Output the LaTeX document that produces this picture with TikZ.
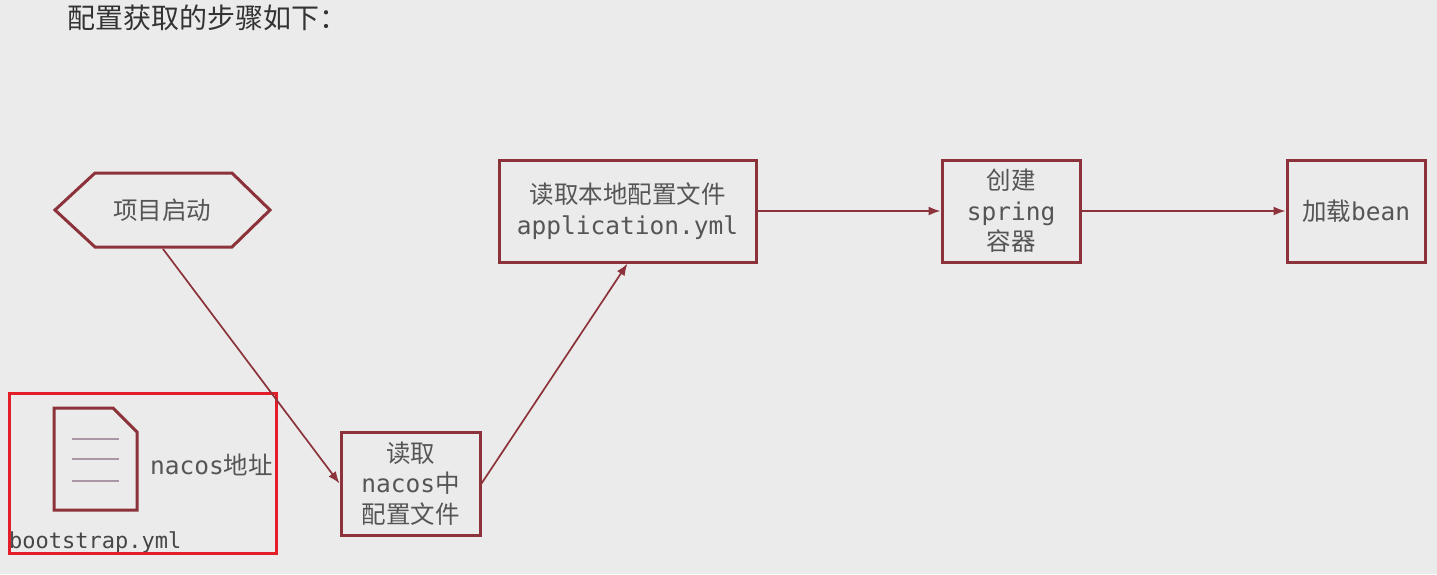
\documentclass[tikz,border=0pt]{standalone}
\usepackage{fontspec}
\setmainfont{Noto Sans CJK SC}
\newfontfamily\cjk{Noto Sans CJK SC}
\newfontfamily\monof{DejaVu Sans Mono}
\usetikzlibrary{arrows.meta}
\definecolor{bg}{RGB}{235,235,235}
\definecolor{dred}{RGB}{140,50,58}
\definecolor{txt}{RGB}{85,85,85}
\definecolor{hl}{RGB}{228,30,40}
\definecolor{docline}{RGB}{170,150,165}
\tikzset{
  stepbox/.style={draw=dred, line width=3pt, fill=none, inner sep=0pt, align=center, text=txt,
    font=\fontsize{24.5}{30.5}\selectfont},
  conn/.style={draw=dred, line width=1.7pt, -{Latex[length=12pt,width=9pt]}},
}
\begin{document}
\begin{tikzpicture}[x=1pt,y=-1pt]
\fill[bg] (0,0) rectangle (1437,574);
\useasboundingbox (0,0) rectangle (1437,574);
% title
\node[anchor=west, text={rgb,255:red,51;green,51;blue,51}, font=\fontsize{28}{30}\selectfont\cjk, inner sep=0pt] (title) at (67,18) {配置获取的步骤如下：};
% hexagon
\draw[dred, line width=3pt, line join=miter] (55,210) -- (95,173) -- (232,173) -- (270,210) -- (232,247) -- (95,247) -- cycle;
\node[text=txt, font=\fontsize{24.5}{30}\selectfont\cjk, inner sep=0pt] (start) at (162,210) {项目启动};
\coordinate (hexb) at (163,249);
% boxes
\node[stepbox, minimum width=257pt, minimum height=102pt] (local) at (627.5,211)
  {{\cjk 读取本地配置文件}\\{\monof application.yml}};
\node[stepbox, minimum width=138pt, minimum height=102pt] (spring) at (1011,211)
  {{\cjk 创建}\\{\monof spring}\\{\cjk 容器}};
\node[stepbox, minimum width=138pt, minimum height=102pt] (bean) at (1356,211)
  {{\cjk 加载}{\monof bean}};
\node[stepbox, minimum width=139pt, minimum height=103pt] (nacos) at (410.5,483.5)
  {{\cjk 读取}\\{\monof nacos}{\cjk 中}\\{\cjk 配置文件}};
% document icon
\draw[dred, line width=3pt, line join=miter] (54,408) -- (113,408) -- (137,432) -- (137,510) -- (54,510) -- cycle;
\foreach \yy in {439,459,481} \draw[docline, line width=1.2pt] (72,\yy) -- (119,\yy);
\node[anchor=west, text=txt, font=\fontsize{24.5}{30}\selectfont, inner sep=0pt] (addr) at (150,465) {{\monof nacos}{\cjk 地址}};
\node[anchor=west, text={rgb,255:red,70;green,70;blue,70}, font=\fontsize{22}{24}\selectfont\monof, inner sep=0pt] (boot) at (9,542) {bootstrap.yml};
% highlight rectangle
\draw[hl, line width=3pt] (9,393) rectangle (276,553);
% connectors
\draw[conn] (hexb) -- (nacos.west);
\draw[conn] (nacos.east) -- (local.south);
\draw[conn] (local.east) -- (spring.west);
\draw[conn] (spring.east) -- (bean.west);
\end{tikzpicture}
\end{document}
